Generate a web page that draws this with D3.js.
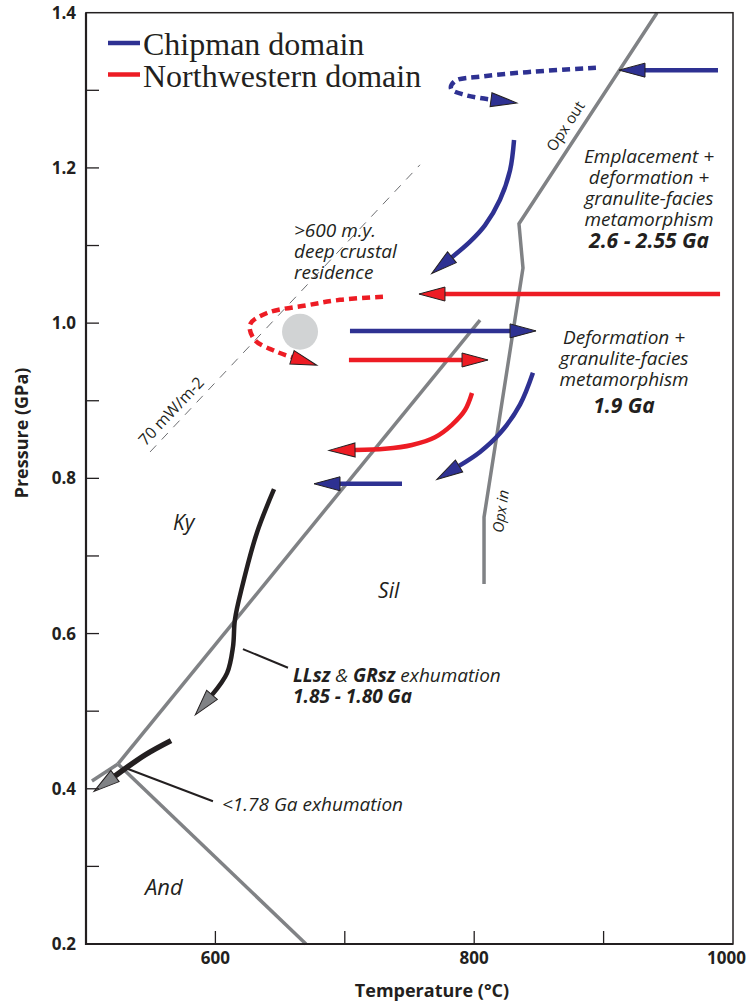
<!DOCTYPE html>
<html>
<head>
<meta charset="utf-8">
<script src="https://cdn.jsdelivr.net/npm/d3@7"></script>
<style>
  body { margin: 0; background: #fff; }
  svg { display: block; }
  .tick-label { font-family: "Open Sans", sans-serif; font-weight: 700; font-size: 17px; fill: #231f20; }
  .axis-title { font-family: "Open Sans", sans-serif; font-weight: 700; font-size: 18px; fill: #231f20; }
  .note { font-family: "Open Sans", sans-serif; font-style: italic; font-size: 19px; fill: #231f20; }
  .note .b { font-weight: 700; }
  .note .big { font-weight: 700; font-size: 21px; }
  .small { font-family: "Open Sans", sans-serif; font-size: 15px; fill: #231f20; }
  .legend-text { font-family: "Liberation Serif", "Times New Roman", serif; font-size: 32px; fill: #231f20; }
</style>
</head>
<body>
<div id="chart"></div>
<script>
// axes
var tempTicks = [600, 700, 800, 900];
var tempLabels = [600, 800, 1000];
var pressureTicks = [0.3, 0.4, 0.5, 0.6, 0.7, 0.8, 0.9, 1.0, 1.1, 1.2, 1.3];
var pressureLabels = [0.2, 0.4, 0.6, 0.8, 1.0, 1.2, 1.4];

// reaction lines, [T (°C), P (GPa)]
var kyAnd = [[504.6, 0.410], [524.7, 0.432]];
var kySil = [[524.7, 0.432], [804.5, 1.004]];
var andSil = [[524.7, 0.432], [670.0, 0.200]];
var opxLine = [[941.3, 1.400], [834.6, 1.128], [837.7, 1.071], [807.6, 0.750], [807.6, 0.664]];
var geotherm = [[549.5, 0.834], [758.1, 1.204]];
var residence = [665.4, 0.989];

// Chipman domain paths
var chipmanEarly = [[894.1, 1.329], [845.4, 1.324], [806.8, 1.318], [785.2, 1.312], [782.1, 1.302], [792.9, 1.294], [813.0, 1.288]];
var chipmanEntry = [[988.4, 1.326], [932.0, 1.326]];
var chipmanCool = [[830.8, 1.236], [827.7, 1.197], [819.9, 1.159], [808.3, 1.126], [796.8, 1.105], [782.8, 1.085]];
var chipmanHeat = [[704.0, 0.990], [827.7, 0.990]];
var chipmanCool2 = [[845.4, 0.936], [835.4, 0.895], [819.9, 0.858], [804.5, 0.834], [788.3, 0.816]];
var chipmanLate = [[744.2, 0.793], [696.3, 0.793]];

// Northwestern domain paths
var nwEarly = [[729.5, 1.034], [696.3, 1.030], [670.8, 1.023], [639.9, 1.013], [626.7, 0.998], [630.6, 0.978], [646.1, 0.964], [659.2, 0.956]];
var nwEntry = [[990.0, 1.0375], [777.4, 1.0375]];
var nwHeat = [[703.2, 0.9525], [790.6, 0.9525]];
var nwCool = [[798.3, 0.910], [792.9, 0.888], [782.8, 0.869], [769.7, 0.853], [751.9, 0.843], [731.1, 0.838], [707.9, 0.8365]];

// exhumation paths
var exhumation1 = [[645.3, 0.786], [632.1, 0.730], [620.6, 0.660], [615.1, 0.618], [613.6, 0.583], [609.0, 0.549], [597.4, 0.521]];
var exhumation2 = [[565.7, 0.462], [545.6, 0.4435], [522.4, 0.4165]];
var leader1 = [[621.3, 0.580], [656.1, 0.556]];
var leader2 = [[532.5, 0.4255], [598.1, 0.384]];

var legendItems = ["Chipman domain", "Northwestern domain"];
var emplacementNote = ["Emplacement +", "deformation +", "granulite-facies", "metamorphism", "2.6 - 2.55 Ga"];
var deformationNote = ["Deformation +", "granulite-facies", "metamorphism", "1.9 Ga"];
var residenceNote = [">600 m.y.", "deep crustal", "residence"];

!(function(d3) {
  var width = 748, height = 1005;
  var blue = "#2e3192", red = "#ed1c24", grey = "#808285", ink = "#231f20";

  var x = d3.scaleLinear().domain([500, 1000]).range([86, 733]);
  var y = d3.scaleLinear().domain([0.2, 1.4]).range([944, 12.7]);

  var svg = d3.select("#chart").append("svg")
    .attr("width", width)
    .attr("height", height);

  var defs = svg.append("defs");
  [["blue", blue], ["red", red], ["grey", grey]].forEach(function(m) {
    defs.append("marker")
      .attr("id", "arrow-" + m[0])
      .attr("viewBox", "-2 -9 30 18")
      .attr("refX", 0)
      .attr("refY", 0)
      .attr("markerWidth", 30)
      .attr("markerHeight", 18)
      .attr("markerUnits", "userSpaceOnUse")
      .attr("orient", "auto")
      .style("overflow", "visible")
      .append("path")
      .attr("d", "M0,-7L26,0L0,7Z")
      .attr("fill", m[1])
      .attr("stroke", ink)
      .attr("stroke-width", 1)
      .attr("stroke-dasharray", "none");
  });

  var straight = d3.line()
    .x(function(d) { return x(d[0]); })
    .y(function(d) { return y(d[1]); });
  var smooth = d3.line()
    .curve(d3.curveCatmullRom.alpha(0.5))
    .x(function(d) { return x(d[0]); })
    .y(function(d) { return y(d[1]); });

  var panel = svg.append("g").attr("class", "panel");

  // reaction lines
  [kyAnd, kySil, andSil, opxLine].forEach(function(pts) {
    panel.append("path")
      .attr("d", straight(pts))
      .attr("fill", "none")
      .attr("stroke", grey)
      .attr("stroke-width", 3.5)
      .attr("stroke-linejoin", "miter");
  });

  panel.append("path")
    .attr("d", straight(geotherm))
    .attr("fill", "none")
    .attr("stroke", "#6d6e71")
    .attr("stroke-width", 1)
    .attr("stroke-dasharray", "9,8");

  panel.append("circle")
    .attr("cx", x(residence[0]))
    .attr("cy", y(residence[1]))
    .attr("r", 18)
    .attr("fill", "#d1d3d4");

  var paths = [
    { pts: chipmanEarly, color: blue, marker: "blue", dash: "8,5", w: 4.5 },
    { pts: chipmanEntry, color: blue, marker: "blue", w: 4.5 },
    { pts: chipmanCool, color: blue, marker: "blue", w: 4.5 },
    { pts: chipmanHeat, color: blue, marker: "blue", w: 4.5 },
    { pts: chipmanCool2, color: blue, marker: "blue", w: 4.5 },
    { pts: chipmanLate, color: blue, marker: "blue", w: 4.5 },
    { pts: nwEarly, color: red, marker: "red", dash: "8,5", w: 4.5 },
    { pts: nwEntry, color: red, marker: "red", w: 4.5 },
    { pts: nwHeat, color: red, marker: "red", w: 4.5 },
    { pts: nwCool, color: red, marker: "red", w: 4.5 },
    { pts: exhumation1, color: ink, marker: "grey", w: 4.5 },
    { pts: exhumation2, color: ink, marker: "grey", w: 5.5 }
  ];

  panel.selectAll(".ptt")
    .data(paths)
    .enter()
    .append("path")
    .attr("class", "ptt")
    .attr("d", function(d) { return smooth(d.pts); })
    .attr("fill", "none")
    .attr("stroke", function(d) { return d.color; })
    .attr("stroke-width", function(d) { return d.w; })
    .attr("stroke-dasharray", function(d) { return d.dash || null; })
    .attr("marker-end", function(d) { return "url(#arrow-" + d.marker + ")"; });

  [leader1, leader2].forEach(function(pts) {
    panel.append("path")
      .attr("d", straight(pts))
      .attr("stroke", ink)
      .attr("stroke-width", 2);
  });

  // notes, one text per line
  var block = function(lines, t, p, anchor, gaps, boldLast) {
    var top = y(p);
    lines.forEach(function(s, i) {
      if (i) top += gaps[i - 1];
      panel.append("text")
        .attr("class", "note")
        .attr("text-anchor", anchor)
        .attr("x", x(t))
        .attr("y", top)
        .append("tspan")
        .attr("class", boldLast && i === lines.length - 1 ? "big" : null)
        .text(s);
    });
  };
  block(emplacementNote, 935.1, 1.206, "middle", [21, 21, 21, 22], true);
  block(deformationNote, 915.8, 0.973, "middle", [21, 21, 27], true);
  block(residenceNote, 660.7, 1.111, "start", [21, 21], false);

  var label = function(s, t, p, size) {
    panel.append("text")
      .attr("class", "note")
      .attr("x", x(t))
      .attr("y", y(p))
      .style("font-size", size + "px")
      .text(s);
  };
  label("Ky", 567.2, 0.733, 21);
  label("Sil", 725.7, 0.646, 21);
  label("And", 545.6, 0.263, 22);
  label("<1.78 Ga exhumation", 605.1, 0.3714, 19);

  var ll = panel.append("text")
    .attr("class", "note")
    .attr("x", x(660))
    .attr("y", y(0.5376));
  ll.append("tspan").attr("class", "b").text("LLsz");
  ll.append("tspan").text(" & ");
  ll.append("tspan").attr("class", "b").text("GRsz");
  ll.append("tspan").text(" exhumation");
  panel.append("text")
    .attr("class", "note")
    .attr("x", x(660))
    .attr("y", y(0.5376) + 21)
    .style("font-weight", 700)
    .text("1.85 - 1.80 Ga");

  var rotated = function(s, t, p, angle, italic, size) {
    panel.append("text")
      .attr("class", "small")
      .attr("text-anchor", "middle")
      .attr("transform", "translate(" + x(t) + "," + y(p) + ") rotate(" + angle + ")")
      .style("font-style", italic ? "italic" : null)
      .style("font-size", size + "px")
      .text(s);
  };
  rotated("Opx out", 874, 1.250, -56.8, false, 15);
  rotated("Opx in", 824.6, 0.7566, -82, true, 15);
  rotated("70 mW/m-2", 569, 0.8816, -46.7, false, 16);

  // legend
  var legend = svg.append("g").attr("class", "legend");
  legendItems.forEach(function(s, i) {
    legend.append("line")
      .attr("x1", 108).attr("x2", 140)
      .attr("y1", 43 + i * 31.5).attr("y2", 43 + i * 31.5)
      .attr("stroke", i ? red : blue)
      .attr("stroke-width", 4.5);
    legend.append("text")
      .attr("class", "legend-text")
      .attr("x", 143)
      .attr("y", 54.5 + i * 32)
      .text(s);
  });

  // frame and ticks
  var axes = svg.append("g").attr("class", "axes");
  axes.append("rect")
    .attr("x", x(500)).attr("y", y(1.4))
    .attr("width", x(1000) - x(500))
    .attr("height", y(0.2) - y(1.4))
    .attr("fill", "none")
    .attr("stroke", ink)
    .attr("stroke-width", 1.5);
  axes.append("path")
    .attr("d", "M" + x(500) + "," + y(1.4) + "V" + y(0.2) + "H" + x(1000))
    .attr("fill", "none")
    .attr("stroke", ink)
    .attr("stroke-width", 2.2);

  axes.selectAll(".ytick")
    .data(pressureTicks)
    .enter()
    .append("line")
    .attr("class", "ytick")
    .attr("x1", x(500)).attr("x2", x(500) + 13)
    .attr("y1", function(d) { return y(d); })
    .attr("y2", function(d) { return y(d); })
    .attr("stroke", ink)
    .attr("stroke-width", 1.3);
  axes.selectAll(".xtick")
    .data(tempTicks)
    .enter()
    .append("line")
    .attr("class", "xtick")
    .attr("x1", function(d) { return x(d); })
    .attr("x2", function(d) { return x(d); })
    .attr("y1", y(0.2)).attr("y2", y(0.2) - 13)
    .attr("stroke", ink)
    .attr("stroke-width", 1.3);

  axes.selectAll(".ylab")
    .data(pressureLabels)
    .enter()
    .append("text")
    .attr("class", "tick-label")
    .attr("text-anchor", "end")
    .attr("x", 76)
    .attr("y", function(d) { return y(d); })
    .attr("dy", "0.36em")
    .text(function(d) { return d.toFixed(1); });
  axes.selectAll(".xlab")
    .data(tempLabels)
    .enter()
    .append("text")
    .attr("class", "tick-label")
    .attr("text-anchor", function(d) { return d === 1000 ? "end" : "middle"; })
    .attr("x", function(d) { return d === 1000 ? width - 2 : x(d); })
    .attr("y", 964)
    .text(function(d) { return d; });

  axes.append("text")
    .attr("class", "axis-title")
    .attr("text-anchor", "middle")
    .attr("x", 432)
    .attr("y", 997)
    .text("Temperature (°C)");
  axes.append("text")
    .attr("class", "axis-title")
    .attr("text-anchor", "middle")
    .attr("transform", "translate(28,433) rotate(-90)")
    .text("Pressure (GPa)");
})(d3);
</script>
</body>
</html>
